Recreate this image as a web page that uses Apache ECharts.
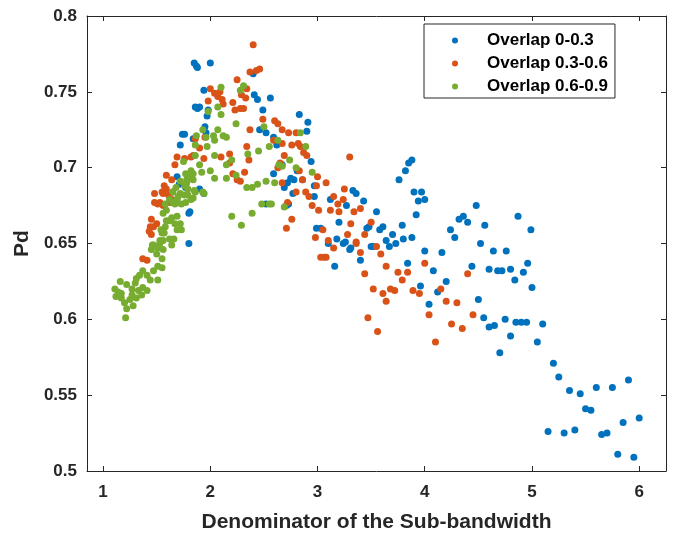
<!DOCTYPE html>
<html>
<head>
<meta charset="utf-8">
<script src="https://cdn.jsdelivr.net/npm/echarts@6/dist/echarts.min.js"></script>
<style>html,body{margin:0;padding:0;background:#fff}#c{width:674px;height:534px}</style>
</head>
<body>
<div id="c"></div>
<script>
var seriesNames = ['Overlap 0-0.3', 'Overlap 0.3-0.6', 'Overlap 0.6-0.9'];
var xTicks = [1, 2, 3, 4, 5, 6];
var yTicks = [0.5, 0.55, 0.6, 0.65, 0.7, 0.75, 0.8];

var overlapLow = [
[1.85,0.769],[1.87,0.767],[1.88,0.766],[2.00,0.769],[1.94,0.751],[1.86,0.740],[1.88,0.739],[1.90,0.740],[1.98,0.738],[1.97,0.734],
[2.40,0.762],[2.41,0.748],[2.44,0.745],[2.56,0.746],[2.49,0.738],[2.46,0.725],[2.52,0.723],[2.59,0.720],[2.62,0.715],[2.83,0.735],[2.91,0.730],[2.90,0.724],[2.94,0.704],
[1.72,0.715],[1.74,0.722],[1.76,0.722],[1.84,0.719],[1.95,0.727],[1.96,0.723],
[1.69,0.694],[1.71,0.689],[1.77,0.687],[1.90,0.686],[1.94,0.683],[1.80,0.670],[1.81,0.671],[1.80,0.650],
[2.59,0.696],[2.67,0.702],[2.72,0.690],[2.69,0.687],[2.75,0.693],[2.78,0.692],[2.77,0.683],[2.73,0.676],[2.81,0.698],[2.86,0.692],[2.97,0.688],[2.97,0.681],[2.99,0.660],[3.03,0.660],[2.52,0.676],[2.71,0.675],
[3.12,0.679],[3.20,0.664],[3.18,0.653],[3.26,0.651],[3.27,0.675],[3.33,0.685],[3.36,0.683],[3.43,0.678],[3.55,0.671],[3.46,0.660],[3.48,0.661],[3.58,0.659],[3.52,0.648],[3.31,0.647],
[3.76,0.692],[3.82,0.698],[3.85,0.703],[3.88,0.705],[3.90,0.684],[3.97,0.684],[3.94,0.678],[4.00,0.679],[3.92,0.669],
[4.48,0.675],[4.32,0.666],[4.36,0.668],[4.40,0.664],[4.56,0.662],[4.24,0.659],[4.28,0.654],[4.52,0.650],[4.87,0.668],[4.99,0.659],
[3.61,0.661],[3.79,0.662],[3.70,0.656],[3.64,0.652],[3.67,0.648],[3.73,0.650],[3.80,0.653],[3.88,0.654],
[4.64,0.645],[4.76,0.645],[4.00,0.645],[4.16,0.644],[4.08,0.632],[3.84,0.637],[3.40,0.639],[3.16,0.635],[3.30,0.646],[3.24,0.650],[3.10,0.650],[3.50,0.648],
[3.96,0.622],[4.20,0.625],[4.12,0.618],[4.04,0.610],[4.44,0.635],[4.50,0.613],[4.60,0.633],[4.68,0.632],[4.72,0.632],[4.80,0.633],[4.92,0.631],[4.96,0.637],[4.84,0.626],[5.00,0.621],
[4.55,0.601],[4.60,0.595],[4.65,0.596],[4.75,0.600],[4.85,0.598],[4.90,0.598],[4.95,0.598],[5.10,0.597],[4.80,0.589],[4.70,0.578],[5.05,0.585],
[5.20,0.571],[5.25,0.562],[5.35,0.553],[5.45,0.551],[5.50,0.541],[5.55,0.540],[5.60,0.555],[5.75,0.555],[5.90,0.560],[5.15,0.526],[5.30,0.525],[5.40,0.527],[5.65,0.524],[5.70,0.525],[5.85,0.532],[6.00,0.535],[5.80,0.511],[5.95,0.509]
];

var overlapMid = [
[2.40,0.781],[2.37,0.763],[2.43,0.764],[2.46,0.765],[2.25,0.758],[2.34,0.752],[2.29,0.748],
[2.00,0.752],[2.04,0.749],[2.09,0.750],[2.11,0.745],[2.07,0.747],[1.98,0.744],[2.12,0.742],[2.21,0.743],[2.23,0.738],[2.28,0.739],[2.31,0.739],[2.33,0.746],[2.37,0.725],[2.49,0.732],[2.60,0.731],[2.63,0.729],[2.67,0.725],[2.73,0.723],[2.80,0.723],[1.86,0.719],[1.95,0.720],
[2.59,0.718],[2.67,0.716],[2.76,0.715],[2.82,0.716],[2.84,0.714],[2.87,0.710],[2.90,0.708],[2.34,0.714],
[2.18,0.709],[2.18,0.703],[2.10,0.707],[2.21,0.696],[2.25,0.692],[2.28,0.691],[2.32,0.697],[2.36,0.705],
[1.90,0.713],[1.94,0.706],[1.69,0.707],[1.67,0.702],[1.82,0.707],[1.84,0.708],[1.76,0.706],
[1.59,0.695],[1.64,0.692],[1.57,0.688],[1.56,0.683],[1.61,0.682],[1.65,0.684],[1.62,0.677],[1.53,0.677],
[1.48,0.683],[1.55,0.684],[1.59,0.686],[1.64,0.679],[1.51,0.676],[1.56,0.675],[1.48,0.677],[1.45,0.666],[1.44,0.661],[1.47,0.661],[1.43,0.658],[1.45,0.656],[1.50,0.663],[1.41,0.639],[1.37,0.640],
[2.63,0.700],[2.65,0.703],[2.69,0.708],[2.83,0.698],[2.86,0.692],[2.89,0.684],[2.80,0.684],[3.00,0.694],[2.99,0.688],[3.08,0.690],[3.25,0.686],[3.15,0.681],[3.24,0.679],[3.19,0.676],[3.20,0.671],[3.12,0.672],[3.01,0.672],[2.95,0.675],[2.92,0.681],[2.72,0.677],[2.67,0.690],
[3.34,0.671],[3.40,0.673],[3.50,0.664],[3.31,0.663],[3.28,0.656],[3.44,0.656],[3.36,0.651],[3.40,0.644],[3.59,0.643],[3.55,0.648],[3.64,0.635],[3.44,0.630],[3.10,0.652],[3.15,0.647],[3.05,0.659],[2.98,0.654],[2.71,0.660],[2.76,0.666],[3.03,0.641],[3.06,0.641],[3.08,0.641],[3.52,0.620],[3.30,0.707],[3.36,0.650],
[3.75,0.631],[3.79,0.626],[3.84,0.631],[4.00,0.637],[3.68,0.620],[3.72,0.619],[3.61,0.617],[3.64,0.612],[3.89,0.619],[3.95,0.617],[4.15,0.620],[4.20,0.612],[4.30,0.611],[4.40,0.630],[4.04,0.603],[4.45,0.603],[4.25,0.597],[4.35,0.594],[3.47,0.601],[3.56,0.592],[4.10,0.585]
];

var overlapHigh = [
[2.10,0.753],[2.28,0.751],[2.31,0.754],[2.07,0.740],[2.10,0.735],[1.98,0.737],
[2.07,0.725],[2.12,0.721],[2.15,0.720],[2.03,0.721],[2.04,0.718],[1.96,0.720],[1.93,0.725],[1.87,0.721],[1.86,0.715],[1.86,0.708],[1.97,0.714],
[2.24,0.729],[2.35,0.709],[2.45,0.711],[2.50,0.727],[2.55,0.714],[2.63,0.718],[2.84,0.723],[2.89,0.714],
[2.04,0.708],[2.15,0.702],[2.20,0.705],[2.00,0.698],[2.04,0.693],[2.15,0.693],[2.24,0.695],[1.92,0.697],
[2.34,0.687],[2.39,0.687],[2.44,0.689],[2.52,0.691],[2.60,0.690],[2.74,0.705],[2.80,0.700],[2.67,0.701],[2.64,0.702],[2.95,0.697],
[2.48,0.676],[2.55,0.676],[2.39,0.670],[2.29,0.662],[2.20,0.668],[2.69,0.674],[2.57,0.676],
[1.82,0.698],[1.84,0.696],[1.90,0.702],[1.93,0.684],[1.75,0.704],[1.77,0.696],[1.72,0.691],[1.78,0.690],[1.84,0.692],[1.81,0.694],[1.85,0.685],[1.84,0.680],
[1.68,0.687],[1.65,0.684],[1.72,0.683],[1.76,0.682],[1.70,0.681],[1.62,0.679],[1.67,0.676],[1.58,0.676],[1.59,0.672],[1.56,0.670],[1.64,0.667],[1.59,0.665],[1.67,0.663],[1.69,0.659],[1.58,0.661],[1.54,0.659],[1.57,0.657],[1.53,0.652],[1.46,0.649],[1.51,0.647],
[1.79,0.682],[1.73,0.676],[1.77,0.677],[1.82,0.679],[1.94,0.683],[1.86,0.684],
[1.62,0.665],[1.72,0.663],[1.69,0.668],[1.73,0.659],[1.55,0.657],[1.56,0.652],[1.62,0.653],[1.53,0.650],[1.47,0.649],[1.45,0.646],[1.56,0.646],[1.50,0.643],[1.55,0.640],[1.64,0.649],[1.66,0.653],
[1.47,0.632],[1.51,0.635],[1.55,0.634],[1.51,0.626],[1.37,0.632],[1.34,0.629],[1.41,0.629],[1.44,0.626],[1.30,0.624],[1.31,0.627],[1.27,0.620],[1.22,0.623],[1.16,0.625],[1.11,0.620],[1.14,0.618],[1.12,0.615],[1.17,0.614],[1.20,0.611],[1.25,0.613],[1.28,0.609],[1.22,0.607],[1.31,0.614],[1.36,0.616],[1.41,0.619],[1.37,0.621],[1.21,0.601],[1.17,0.617],[1.27,0.616],[1.33,0.619],
[1.65,0.677],[1.69,0.679],[1.78,0.692],[1.76,0.688],[1.79,0.686]
];

var colors = ['#0072BD', '#D95319', '#77AC30'];
var axisColor = '#262626';
var fontFam = '"Liberation Sans", Arial, Helvetica, sans-serif';

var chart = echarts.init(document.getElementById('c'), null, {renderer: 'canvas'});

function baseAxisLine() { return {show: true, lineStyle: {color: axisColor, width: 1}}; }

var option = {
  animation: false,
  backgroundColor: '#fff',
  grid: {left: 87, top: 16, right: 8, bottom: 63, containLabel: false, outerBoundsMode: 'none'},
  legend: {
    orient: 'vertical',
    left: 424, top: 24,
    padding: [8, 7, 3, 28],
    itemWidth: 6, itemHeight: 6,
    itemGap: 6,
    backgroundColor: '#fff',
    borderColor: axisColor, borderWidth: 1,
    icon: 'circle',
    textStyle: {fontFamily: fontFam, fontWeight: 'bold', fontSize: 17, color: '#000', padding: [0, 0, 0, 24]},
    data: seriesNames
  },
  xAxis: [{
    type: 'value', min: 0.85, max: 6.25, position: 'bottom',
    name: 'Denominator of the Sub-bandwidth', nameLocation: 'middle', nameGap: 41,
    nameTextStyle: {fontFamily: fontFam, fontWeight: 'bold', fontSize: 21, color: axisColor},
    axisLine: baseAxisLine(),
    axisTick: {show: true, inside: true, length: 5, customValues: xTicks, lineStyle: {color: axisColor}},
    axisLabel: {show: true, customValues: xTicks, margin: 13, fontFamily: fontFam, fontWeight: 'bold', fontSize: 17, color: axisColor},
    splitLine: {show: false}
  }, {
    type: 'value', min: 0.85, max: 6.25, position: 'top',
    axisLine: baseAxisLine(),
    axisTick: {show: true, inside: true, length: 5, customValues: xTicks, lineStyle: {color: axisColor}},
    axisLabel: {show: false},
    splitLine: {show: false}
  }],
  yAxis: [{
    type: 'value', min: 0.5, max: 0.8, position: 'left',
    name: 'Pd', nameLocation: 'middle', nameGap: 53,
    nameTextStyle: {fontFamily: fontFam, fontWeight: 'bold', fontSize: 21, color: axisColor},
    axisLine: baseAxisLine(),
    axisTick: {show: true, inside: true, length: 5, customValues: yTicks, lineStyle: {color: axisColor}},
    axisLabel: {show: true, customValues: yTicks, margin: 10, fontFamily: fontFam, fontWeight: 'bold', fontSize: 17, color: axisColor,
      formatter: function (v) { return String(+(+v).toFixed(2)); }},
    splitLine: {show: false}
  }, {
    type: 'value', min: 0.5, max: 0.8, position: 'right',
    axisLine: baseAxisLine(),
    axisTick: {show: true, inside: true, length: 5, customValues: yTicks, lineStyle: {color: axisColor}},
    axisLabel: {show: false},
    splitLine: {show: false}
  }],
  series: [
    {name: seriesNames[0], type: 'scatter', data: overlapLow, symbolSize: 7, itemStyle: {color: colors[0], opacity: 1}},
    {name: seriesNames[1], type: 'scatter', data: overlapMid, symbolSize: 7, itemStyle: {color: colors[1], opacity: 1}},
    {name: seriesNames[2], type: 'scatter', data: overlapHigh, symbolSize: 7, itemStyle: {color: colors[2], opacity: 1}}
  ]
};
chart.setOption(option);
</script>
</body>
</html>
